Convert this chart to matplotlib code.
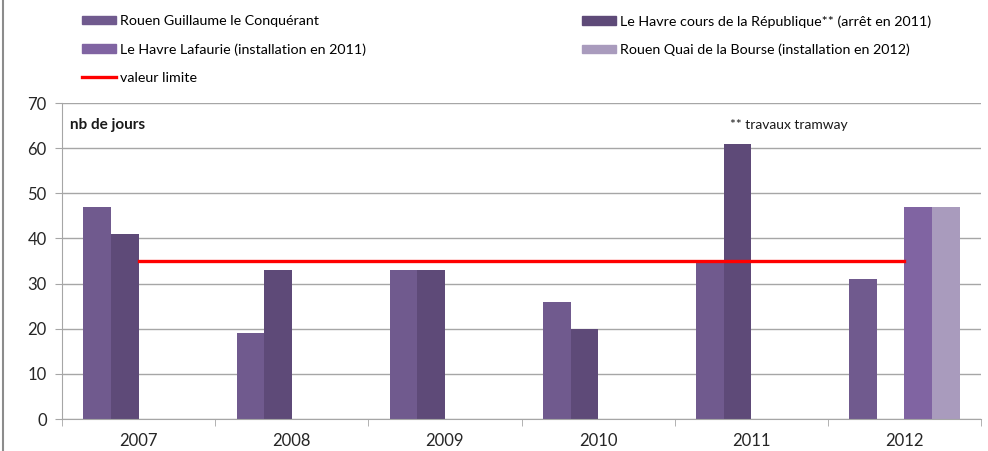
import matplotlib
matplotlib.use("Agg")
import matplotlib.pyplot as plt
import numpy as np
from matplotlib.lines import Line2D
from matplotlib.patches import Patch

years = ["2007", "2008", "2009", "2010", "2011", "2012"]
rouen_gc = [47, 19, 33, 26, 35, 31]
lh_republique = [41, 33, 33, 20, 61, np.nan]
lh_lafaurie = [np.nan, np.nan, np.nan, np.nan, np.nan, 47]
rouen_bourse = [np.nan, np.nan, np.nan, np.nan, np.nan, 47]
limite = [35, 35, 35, 35, 35, 35]

names = ["Rouen Guillaume le Conquérant",
         "Le Havre cours de la République** (arrêt en 2011)",
         "Le Havre Lafaurie (installation en 2011)",
         "Rouen Quai de la Bourse (installation en 2012)"]
colors = ["#705A8E", "#5E4A78", "#8064A2", "#A99BBD"]
series = [rouen_gc, lh_republique, lh_lafaurie, rouen_bourse]

plt.rcParams['font.family'] = ['Lato', 'DejaVu Sans']

fig = plt.figure(figsize=(9.88, 4.51), dpi=100)
ax = fig.add_axes([62/988, 1-419/451, (981-62)/988, (419-103)/451])

x = np.arange(len(years))
w = 0.18
offs = [-1.5, -0.5, 0.5, 1.5]
for s, c, o, n in zip(series, colors, offs, names):
    ax.bar(x + o*w, np.array(s, dtype=float), width=w, color=c, label=n, zorder=2)
ax.plot(x, limite, color="#FF0000", lw=2.4, zorder=3, label="valeur limite")

ax.set_xlim(-0.5, 5.5)
ax.set_ylim(0, 70)
ax.set_yticks(range(0, 71, 10))
ax.yaxis.grid(True, color="#A6A6A6", lw=1, zorder=0)
ax.set_axisbelow(True)
ax.set_xticks(x)
ax.set_xticklabels(years, fontsize=12, color="#262626")
ax.set_xticks(np.arange(-0.5, 5.6, 1), minor=True)
ax.tick_params(axis='x', which='major', length=0, pad=10)
ax.tick_params(axis='x', which='minor', length=5, color="#A6A6A6", direction='out')
ax.tick_params(axis='y', length=5, color="#A6A6A6", labelsize=12, labelcolor="#262626", pad=6)
for sp in ["top", "right"]:
    ax.spines[sp].set_visible(False)
ax.spines["left"].set_color("#A6A6A6")
ax.spines["bottom"].set_color("#A6A6A6")

ax.text(70/988, 1-125/451, "nb de jours", transform=fig.transFigure, fontsize=11,
        fontweight='bold', va='center', ha='left', color="#1a1a1a")
ax.text(730/988, 1-125/451, "** travaux tramway", transform=fig.transFigure, fontsize=10,
        va='center', ha='left', color="#1a1a1a")

h1 = [Patch(color=colors[0]), Patch(color=colors[2]), Line2D([], [], color="#FF0000", lw=2.4)]
l1 = [names[0], names[2], "valeur limite"]
h2 = [Patch(color=colors[1]), Patch(color=colors[3])]
l2 = [names[1], names[3]]
kw = dict(frameon=False, fontsize=10.3, handlelength=2.4, handleheight=0.5,
          handletextpad=0.25, labelspacing=1.12, borderaxespad=0, borderpad=0)
fig.legend(h1, l1, loc='upper left', bbox_to_anchor=(82/988, 1-15/451), **kw)
fig.legend(h2, l2, loc='upper left', bbox_to_anchor=(582/988, 1-15/451), **kw)

fig.add_artist(Line2D([3/988, 3/988], [0, 1], transform=fig.transFigure, color="#8C8C8C", lw=1.5))

fig.savefig("out.png", dpi=100)
